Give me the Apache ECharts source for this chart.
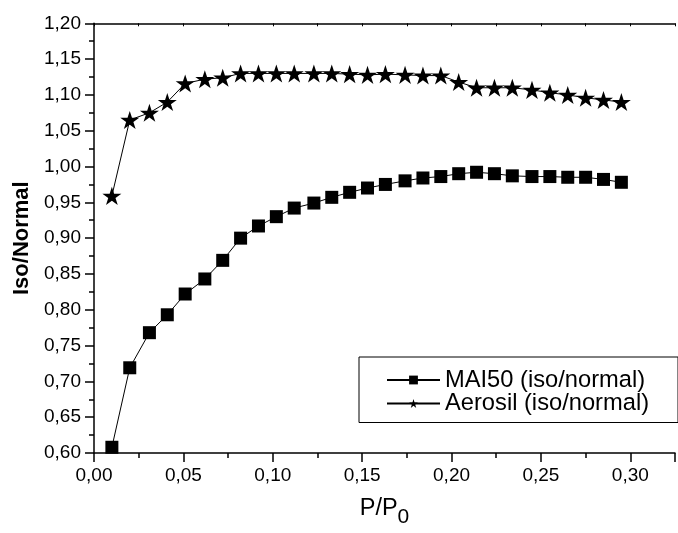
<!DOCTYPE html>
<html>
<head>
<meta charset="utf-8">
<script src="https://cdn.jsdelivr.net/npm/echarts@6/dist/echarts.min.js"></script>
<style>
html,body{margin:0;padding:0;background:#fff;}
#chart{width:678px;height:533px;}
</style>
</head>
<body>
<div id="chart"></div>
<script>
// Data
const pressures = [0.010,0.020,0.031,0.041,0.051,0.062,0.072,0.082,0.092,0.102,0.112,0.123,0.133,0.143,0.153,0.163,0.174,0.184,0.194,0.204,0.214,0.224,0.234,0.245,0.255,0.265,0.275,0.285,0.295];
const mai50 = [0.608,0.719,0.768,0.793,0.822,0.843,0.869,0.900,0.917,0.930,0.942,0.949,0.957,0.964,0.970,0.975,0.980,0.984,0.986,0.990,0.992,0.990,0.987,0.986,0.986,0.985,0.985,0.982,0.978];
const aerosil = [0.959,1.065,1.075,1.090,1.116,1.122,1.124,1.130,1.130,1.130,1.130,1.130,1.130,1.129,1.128,1.129,1.128,1.127,1.127,1.118,1.110,1.110,1.110,1.107,1.103,1.100,1.096,1.093,1.090];
const seriesNames = ['MAI50 (iso/normal)', 'Aerosil (iso/normal)'];
const xTitle = 'P/P';
const xTitleSub = '0';
const yTitle = 'Iso/Normal';

const FONT = 'Liberation Sans, Arial, sans-serif';
const STAR = 'path://M50,0 L61.2,34.5 L97.6,34.5 L68.2,55.9 L79.4,90.5 L50,69.1 L20.6,90.5 L31.8,55.9 L2.4,34.5 L38.8,34.5 Z';
const fmt = v => v.toFixed(2).replace('.', ',');

const chart = echarts.init(document.getElementById('chart'), null, {renderer: 'canvas'});
chart.setOption({
  animation: false,
  backgroundColor: '#fff',
  grid: {left: 94, top: 23.3, right: -5.6, bottom: 71.3},
  legend: {
    orient: 'vertical',
    left: 359, top: 357,
    padding: [11, 29, 7, 27],
    itemGap: -0.5,
    itemWidth: 53, itemHeight: 11,
    borderColor: '#000', borderWidth: 1,
    textStyle: {fontFamily: FONT, fontSize: 23.7, color: '#000'},
    data: seriesNames
  },
  xAxis: [{
    type: 'value', min: 0, max: 0.325, interval: 0.05,
    position: 'bottom',
    name: '{a|' + xTitle + '}{b|' + xTitleSub + '}',
    nameLocation: 'middle', nameGap: 44,
    nameTextStyle: {
      rich: {
        a: {fontFamily: FONT, fontSize: 23.5, color: '#000', verticalAlign: 'top'},
        b: {fontFamily: FONT, fontSize: 21, color: '#000', verticalAlign: 'top', padding: [10, 0, 0, 0]}
      }
    },
    axisLine: {lineStyle: {color: '#000', width: 1.5}},
    axisTick: {inside: false, length: 9, lineStyle: {color: '#000', width: 1.5}},
    minorTick: {show: true, splitNumber: 2, length: 5, lineStyle: {color: '#000', width: 1.5}},
    axisLabel: {fontFamily: FONT, fontSize: 19, color: '#000', margin: 13,
      formatter: v => v > 0.31 ? '' : fmt(v)},
    splitLine: {show: false}
  }, {
    type: 'value', min: 0, max: 0.325, interval: 0.025,
    position: 'top',
    axisLine: {onZero: false, lineStyle: {color: '#000', width: 1.5}},
    axisTick: {inside: true, length: 3, lineStyle: {color: '#000', width: 1}},
    axisLabel: {show: false},
    splitLine: {show: false}
  }],
  yAxis: [{
    type: 'value', min: 0.6, max: 1.2, interval: 0.05,
    name: yTitle, nameLocation: 'middle', nameGap: 61,
    nameTextStyle: {fontFamily: FONT, fontSize: 22, fontWeight: 'bold', color: '#000'},
    axisLine: {show: true, lineStyle: {color: '#000', width: 1.5}},
    axisTick: {show: true, inside: false, length: 9, lineStyle: {color: '#000', width: 1.5}},
    minorTick: {show: true, splitNumber: 2, length: 5, lineStyle: {color: '#000', width: 1.5}},
    axisLabel: {fontFamily: FONT, fontSize: 19, color: '#000', margin: 13, formatter: fmt},
    splitLine: {show: false}
  }],
  series: [{
    name: seriesNames[0], type: 'line',
    data: pressures.map((x, i) => [x, mai50[i]]),
    symbol: 'rect', symbolSize: 13,
    lineStyle: {color: '#000', width: 1},
    itemStyle: {color: '#000'}
  }, {
    name: seriesNames[1], type: 'line',
    data: pressures.map((x, i) => [x, aerosil[i]]),
    symbol: STAR, symbolSize: 19, symbolKeepAspect: true,
    lineStyle: {color: '#000', width: 1},
    itemStyle: {color: '#000'}
  }]
});
</script>
</body>
</html>
